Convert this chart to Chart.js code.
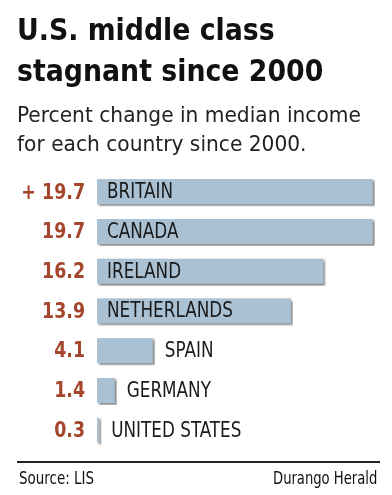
<!DOCTYPE html>
<html>
<head>
<meta charset="utf-8">
<script src="https://cdn.jsdelivr.net/npm/chart.js@4"></script>
<style>
  html, body { margin: 0; padding: 0; background: #fff; }
  #wrap { position: relative; width: 392px; height: 495px; overflow: hidden; }
  #chart { position: absolute; left: 0; top: 0; }
  .txt { position: absolute; font-family: "DejaVu Sans Condensed", "Liberation Sans Narrow", sans-serif; color: #111; white-space: nowrap; transform-origin: 0 0; }
  #title { left: 17px; top: 9px; font-size: 31px; font-weight: bold; line-height: 41px; transform: scaleX(0.96); }
  #sub { left: 17px; top: 100px; font-size: 22px; line-height: 29px; color: #222; transform: scaleX(1.02); }
  #rule { position: absolute; left: 17px; top: 461px; width: 363px; height: 2px; background: #222; }
  #src { left: 19px; top: 468px; font-size: 17px; transform: scaleX(0.88); }
  #credit { left: 273px; top: 468px; font-size: 17px; transform: scaleX(0.86); }
</style>
</head>
<body>
<div id="wrap">
  <canvas id="chart" width="392" height="495"></canvas>
  <div class="txt" id="title">U.S. middle class<br>stagnant since 2000</div>
  <div class="txt" id="sub">Percent change in median income<br>for each country since 2000.</div>
  <div id="rule"></div>
  <div class="txt" id="src">Source: LIS</div>
  <div class="txt" id="credit">Durango Herald</div>
</div>
<script>
const countries = ['BRITAIN', 'CANADA', 'IRELAND', 'NETHERLANDS', 'SPAIN', 'GERMANY', 'UNITED STATES'];
const changes = [19.7, 19.7, 16.2, 13.9, 4.1, 1.4, 0.3];
const valueLabels = ['+ 19.7', '19.7', '16.2', '13.9', '4.1', '1.4', '0.3'];

const FONT = '"DejaVu Sans Condensed", "Liberation Sans Narrow", sans-serif';

// shadow under the bars
const shadowPlugin = {
  id: 'barShadow',
  beforeDatasetsDraw(chart) {
    const ctx = chart.ctx;
    ctx.save();
    ctx.shadowColor = 'rgba(0,0,0,0.45)';
    ctx.shadowOffsetX = 2;
    ctx.shadowOffsetY = 2;
    ctx.shadowBlur = 2;
  },
  afterDatasetsDraw(chart) {
    chart.ctx.restore();
  }
};

// squeeze text horizontally, the original uses a condensed face
function drawCondensed(ctx, text, x, y, sx) {
  ctx.save();
  ctx.translate(x, y);
  ctx.scale(sx, 1);
  ctx.fillText(text, 0, 0);
  ctx.restore();
}

// numbers on the left, country names in or after the bars
const labelPlugin = {
  id: 'barLabels',
  afterDraw(chart) {
    const ctx = chart.ctx;
    const meta = chart.getDatasetMeta(0);
    const x0 = chart.scales.x.getPixelForValue(0);
    ctx.save();
    ctx.textBaseline = 'middle';
    meta.data.forEach((bar, i) => {
      ctx.font = 'bold 22px ' + FONT;
      ctx.fillStyle = '#a5452b';
      ctx.textAlign = 'right';
      drawCondensed(ctx, valueLabels[i], 85, bar.y + 1, 0.88);

      ctx.font = '21px ' + FONT;
      ctx.fillStyle = '#1a1a1a';
      ctx.textAlign = 'left';
      const lx = changes[i] > 10 ? x0 + 10 : bar.x + 10;
      drawCondensed(ctx, countries[i], lx, bar.y + 1, 0.89);
    });
    ctx.restore();
  }
};

new Chart(document.getElementById('chart'), {
  type: 'bar',
  data: {
    labels: countries,
    datasets: [{
      data: changes,
      backgroundColor: '#aac1d3',
      borderColor: '#ffffff',
      borderWidth: 2,
      barPercentage: 0.73,
      categoryPercentage: 1
    }]
  },
  options: {
    indexAxis: 'y',
    responsive: false,
    animation: false,
    layout: { padding: { left: 97, right: 13, top: 172, bottom: 45 } },
    plugins: { legend: { display: false }, tooltip: { enabled: false } },
    scales: {
      x: { display: false, min: 0, max: 20 },
      y: { display: false }
    }
  },
  plugins: [shadowPlugin, labelPlugin]
});
</script>
</body>
</html>
